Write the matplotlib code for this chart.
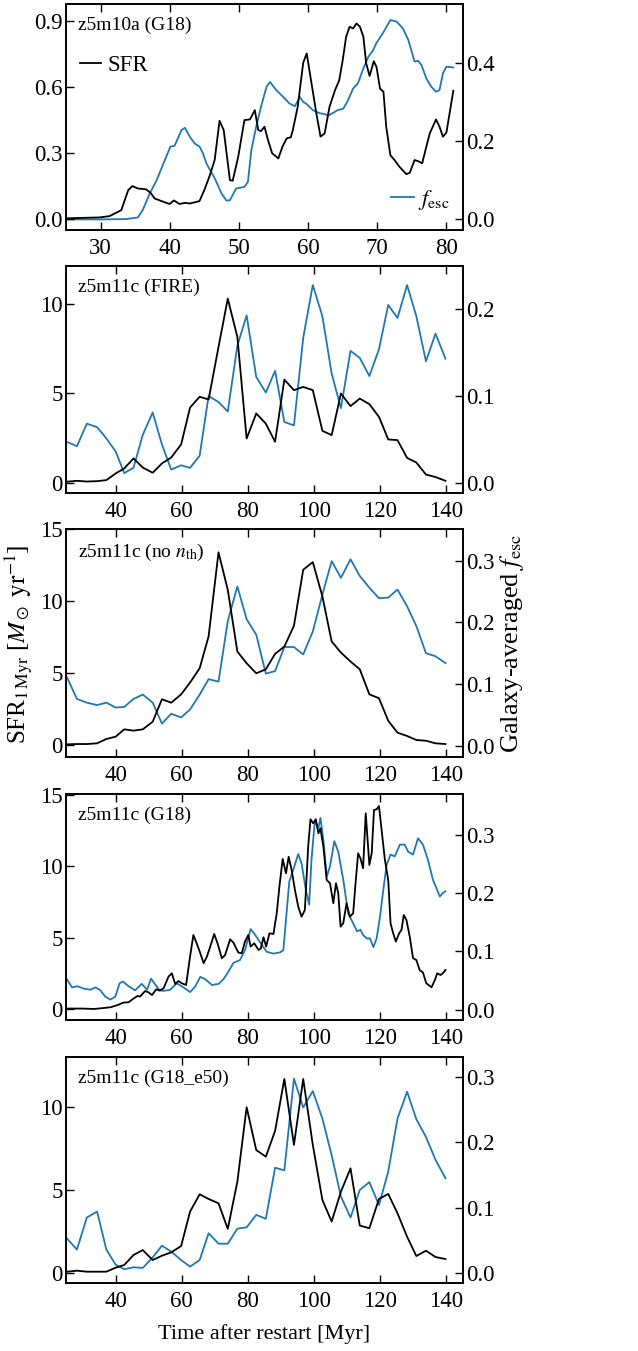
import matplotlib
matplotlib.use("Agg")
import matplotlib.pyplot as plt
from matplotlib.lines import Line2D

plt.rcParams['font.family'] = ['Liberation Serif', 'DejaVu Serif']
plt.rcParams['mathtext.fontset'] = 'stix'

BLACK = 'black'
BLUE = '#1f77b4'

# ---------------- Panel 1: z5m10a (G18) ----------------
t1_sfr = [25.0, 29.9, 31.3, 33.0, 34.0, 34.6, 35.4, 36.6, 37.3, 37.8, 39.5, 40.0, 40.6, 41.4,
          42.2, 42.9, 44.3, 45.0, 45.8, 46.5, 47.2, 47.8, 48.7, 49.1, 49.9, 50.8, 51.6, 52.3,
          52.8, 53.2, 53.7, 54.2, 54.8, 55.7, 56.3, 56.9, 57.5, 57.8, 58.5, 59.3, 59.8, 60.5,
          61.2, 61.8, 62.4, 63.1, 63.9, 64.5, 65.0, 65.5, 66.0, 66.5, 67.0, 67.5, 68.0, 68.4,
          68.9, 69.5, 69.9, 70.4, 70.9, 71.3, 71.9, 72.5, 73.2, 74.2, 74.7, 75.4, 75.9, 76.5,
          77.1, 77.6, 78.5, 79.0, 79.5, 80.0, 81.0]
sfr1 = [0.005, 0.009, 0.015, 0.042, 0.133, 0.151, 0.14, 0.136, 0.118, 0.095, 0.075, 0.07, 0.086,
        0.07, 0.075, 0.072, 0.083, 0.133, 0.2, 0.27, 0.447, 0.405, 0.178, 0.175, 0.284, 0.45,
        0.453, 0.495, 0.405, 0.40, 0.42, 0.36, 0.30, 0.276, 0.33, 0.367, 0.372, 0.405, 0.51,
        0.71, 0.752, 0.616, 0.48, 0.375, 0.39, 0.51, 0.586, 0.63, 0.72, 0.827, 0.873, 0.865,
        0.888, 0.873, 0.827, 0.707, 0.65, 0.717, 0.69, 0.593, 0.578, 0.42, 0.291, 0.269, 0.239,
        0.205, 0.211, 0.269, 0.264, 0.254, 0.33, 0.39, 0.453, 0.42, 0.375, 0.393, 0.583]
t1_fesc = [25.0, 29.9, 33.7, 35.4, 36.1, 37.1, 38.1, 39.0, 40.1, 40.7, 41.7, 42.2, 42.9, 43.6,
           44.3, 44.8, 45.3, 46.5, 47.5, 48.2, 48.7, 49.6, 50.8, 51.3, 51.8, 52.5, 53.2, 54.0,
           54.5, 55.4, 56.4, 57.3, 58.1, 58.8, 59.3, 59.7, 60.7, 61.7, 62.4, 62.9, 63.6, 64.3,
           65.1, 65.8, 66.5, 67.2, 67.9, 68.7, 69.4, 69.9, 70.8, 71.9, 72.8, 73.7, 74.5, 75.4,
           75.9, 76.4, 77.1, 77.8, 78.5, 79.0, 79.5, 80.0, 81.0]
fesc1 = [0.0, 0.0, 0.001, 0.005, 0.024, 0.066, 0.1, 0.139, 0.186, 0.188, 0.228, 0.234, 0.211,
         0.194, 0.186, 0.169, 0.143, 0.105, 0.066, 0.048, 0.049, 0.079, 0.083, 0.096, 0.177,
         0.237, 0.288, 0.339, 0.351, 0.33, 0.313, 0.296, 0.289, 0.313, 0.30, 0.296, 0.279,
         0.271, 0.269, 0.265, 0.272, 0.279, 0.283, 0.305, 0.334, 0.347, 0.381, 0.415, 0.432,
         0.451, 0.475, 0.509, 0.505, 0.488, 0.458, 0.403, 0.405, 0.394, 0.36, 0.339, 0.326,
         0.33, 0.373, 0.39, 0.388]

# ---------------- Coarse time grid (panels 2, 3, 5) ----------------
t_coarse = [25.3, 28.3, 31.3, 34.4, 37.2, 40.0, 42.6, 45.4, 48.2, 51.2, 54.0, 56.8, 59.8, 62.5,
            65.4, 68.1, 71.1, 73.9, 76.8, 79.6, 82.5, 85.4, 88.2, 91.0, 93.9, 96.7, 99.6, 102.5,
            105.3, 108.1, 111.0, 113.8, 116.7, 119.6, 122.4, 125.2, 128.1, 130.9, 133.8, 136.7,
            139.7]

# Panel 2: z5m11c (FIRE)
sfr2 = [0.06, 0.11, 0.07, 0.09, 0.15, 0.52, 0.8, 1.36, 0.85, 0.56, 1.08, 1.41, 2.14, 4.2, 4.8,
        4.65, 7.58, 10.28, 8.14, 2.47, 3.87, 3.3, 2.29, 5.76, 5.17, 5.35, 5.17, 2.9, 2.66, 4.98,
        4.28, 4.7, 4.39, 3.68, 2.42, 2.38, 1.39, 1.13, 0.46, 0.32, 0.11]
fesc2 = [0.047, 0.042, 0.068, 0.064, 0.051, 0.036, 0.011, 0.017, 0.055, 0.081, 0.044, 0.015,
         0.020, 0.017, 0.031, 0.1, 0.093, 0.082, 0.158, 0.193, 0.122, 0.104, 0.129, 0.07, 0.066,
         0.167, 0.228, 0.192, 0.126, 0.086, 0.152, 0.144, 0.123, 0.154, 0.205, 0.19, 0.228,
         0.192, 0.14, 0.172, 0.143]

# Panel 3: z5m11c (no n_th)
sfr3 = [0.05, 0.07, 0.07, 0.12, 0.42, 0.58, 1.09, 1.0, 1.09, 1.62, 3.18, 2.94, 3.52, 4.34, 5.33,
        7.54, 13.38, 10.78, 6.49, 5.68, 4.98, 5.26, 6.33, 6.84, 8.28, 12.17, 12.7, 10.32, 7.19,
        6.42, 5.8, 5.26, 3.52, 3.25, 1.69, 0.86, 0.63, 0.35, 0.3, 0.12, 0.07]
fesc3 = [0.111, 0.076, 0.07, 0.066, 0.07, 0.062, 0.063, 0.076, 0.083, 0.07, 0.036, 0.052, 0.046,
         0.059, 0.083, 0.108, 0.104, 0.202, 0.258, 0.205, 0.18, 0.117, 0.121, 0.16, 0.16, 0.148,
         0.185, 0.245, 0.299, 0.272, 0.302, 0.275, 0.256, 0.239, 0.24, 0.253, 0.226, 0.194,
         0.15, 0.145, 0.134]

# Panel 5: z5m11c (G18_e50)
sfr5 = [0.1, 0.16, 0.1, 0.1, 0.1, 0.34, 0.5, 1.1, 1.4, 0.8, 1.06, 1.26, 1.64, 3.71, 4.75, 4.47,
        4.21, 2.67, 5.51, 9.98, 7.41, 7.01, 8.56, 11.68, 7.72, 11.68, 7.72, 4.41, 3.11, 4.91,
        6.31, 2.87, 2.71, 4.47, 4.77, 3.61, 2.2, 1.04, 1.36, 0.98, 0.86]
fesc5 = [0.053, 0.036, 0.085, 0.094, 0.036, 0.013, 0.006, 0.009, 0.008, 0.024, 0.042, 0.033,
         0.02, 0.01, 0.02, 0.061, 0.045, 0.045, 0.068, 0.07, 0.089, 0.083, 0.161, 0.157, 0.297,
         0.253, 0.278, 0.236, 0.18, 0.117, 0.085, 0.127, 0.139, 0.104, 0.155, 0.236, 0.277,
         0.235, 0.208, 0.173, 0.145]

# ---------------- Panel 4: z5m11c (G18), finely sampled ----------------
t4_sfr = [25.3, 30.3, 33.4, 36.4, 38.4, 40.4, 42.4, 43.9, 45.4, 46.6, 47.4, 48.9, 49.9, 51.0,
          52.3, 53.3, 54.5, 56.0, 57.0, 58.0, 59.0, 60.0, 61.3, 62.5, 63.5, 64.5, 65.6, 66.6,
          67.6, 68.6, 69.8, 70.8, 72.1, 73.1, 74.6, 75.6, 77.1, 78.1, 79.1, 80.1, 80.8, 81.9,
          83.2, 83.9, 84.7, 85.5, 86.5, 87.7, 88.7, 89.5, 90.5, 91.5, 92.3, 93.2, 94.2, 95.2,
          96.2, 97.2, 98.2, 98.9, 99.7, 100.5, 101.3, 101.9, 102.8, 103.8, 104.8, 105.8, 106.6,
          107.3, 108.0, 108.8, 109.8, 110.8, 111.8, 112.6, 113.3, 114.0, 114.8, 115.6, 116.7,
          117.4, 118.1, 118.9, 119.6, 120.4, 121.4, 122.4, 123.1, 123.9, 124.7, 125.7, 126.4,
          127.1, 127.9, 128.9, 129.9, 130.9, 131.9, 132.9, 133.9, 135.5, 136.5, 137.2, 138.2,
          138.9, 139.7]
sfr4 = [0.05, 0.05, 0.02, 0.09, 0.14, 0.28, 0.47, 0.49, 0.75, 0.93, 0.89, 1.28, 1.19, 1.0, 1.4,
        1.31, 1.47, 2.29, 2.52, 1.77, 1.98, 1.82, 1.7, 3.69, 5.2, 4.62, 3.92, 3.22, 3.69, 4.39,
        5.27, 4.62, 3.57, 3.8, 4.9, 4.67, 3.97, 3.92, 4.74, 5.2, 4.39, 4.62, 4.15, 4.27, 5.04,
        4.39, 5.32, 5.27, 6.72, 8.58, 10.52, 9.52, 10.68, 9.75, 8.35, 7.18, 6.48, 6.95, 11.38,
        13.3, 13.02, 13.3, 12.32, 12.67, 11.38, 9.05, 8.82, 7.42, 8.82, 8.12, 5.78, 6.02, 7.42,
        6.48, 6.72, 9.05, 10.92, 10.57, 9.87, 13.72, 10.1, 10.92, 13.95, 14.0, 14.23, 12.55,
        10.45, 9.05, 6.02, 5.32, 4.74, 5.32, 5.55, 6.6, 6.25, 5.09, 3.57, 3.45, 2.75, 2.57, 1.82,
        1.54, 2.05, 2.52, 2.4, 2.52, 2.75]
t4_fesc = [25.3, 26.8, 28.5, 30.3, 32.4, 33.9, 35.4, 36.9, 38.4, 39.9, 41.2, 42.2, 43.9, 45.9,
           47.9, 49.5, 50.7, 51.7, 53.3, 54.5, 56.5, 58.5, 60.5, 62.5, 64.0, 65.6, 67.1, 69.1,
           71.1, 72.6, 74.1, 75.6, 77.6, 79.1, 80.8, 82.2, 83.7, 85.7, 87.7, 89.7, 90.7, 91.5,
           92.5, 93.7, 95.2, 96.2, 97.5, 98.5, 99.2, 100.2, 101.3, 101.9, 102.8, 103.8, 104.8,
           106.1, 107.3, 108.8, 110.3, 111.8, 113.0, 114.0, 114.8, 115.9, 116.9, 117.9, 118.9,
           119.9, 120.9, 121.9, 123.1, 124.4, 125.9, 127.4, 128.4, 129.9, 131.4, 132.9, 134.4,
           135.9, 137.2, 138.0, 138.9, 139.7]
fesc4 = [0.052, 0.038, 0.040, 0.036, 0.034, 0.038, 0.033, 0.022, 0.017, 0.022, 0.045, 0.048,
         0.04, 0.033, 0.044, 0.034, 0.053, 0.045, 0.033, 0.032, 0.034, 0.045, 0.038, 0.03, 0.039,
         0.056, 0.052, 0.042, 0.044, 0.052, 0.065, 0.08, 0.085, 0.102, 0.138, 0.128, 0.115,
         0.099, 0.096, 0.098, 0.102, 0.154, 0.22, 0.24, 0.267, 0.251, 0.205, 0.18, 0.257, 0.323,
         0.312, 0.329, 0.291, 0.228, 0.246, 0.289, 0.271, 0.223, 0.165, 0.148, 0.134, 0.137,
         0.128, 0.122, 0.122, 0.107, 0.122, 0.159, 0.205, 0.248, 0.266, 0.263, 0.283, 0.283,
         0.271, 0.266, 0.294, 0.283, 0.257, 0.223, 0.205, 0.194, 0.2, 0.203]

labels = ['z5m10a (G18)', 'z5m11c (FIRE)', r'z5m11c (no $n_{\rm th}$)', 'z5m11c (G18)',
          'z5m11c (G18_e50)']

panels = [
    dict(ts=t1_sfr, s=sfr1, tf=t1_fesc, f=fesc1, xlim=(25, 82.4), ylim=(-0.048, 0.976),
         y2lim=(-0.027, 0.55), xt=[30, 40, 50, 60, 70, 80], yt=[0.0, 0.3, 0.6, 0.9],
         y2t=[0.0, 0.2, 0.4], box=(4, 230)),
    dict(ts=t_coarse, s=sfr2, tf=t_coarse, f=fesc2, xlim=(25, 145), ylim=(-0.57, 12.1),
         y2lim=(-0.012, 0.25), xt=list(range(40, 141, 20)), yt=[0, 5, 10],
         y2t=[0.0, 0.1, 0.2], box=(266, 493)),
    dict(ts=t_coarse, s=sfr3, tf=t_coarse, f=fesc3, xlim=(25, 145), ylim=(-0.83, 15),
         y2lim=(-0.018, 0.351), xt=list(range(40, 141, 20)), yt=[0, 5, 10, 15],
         y2t=[0.0, 0.1, 0.2, 0.3], box=(529, 757)),
    dict(ts=t4_sfr, s=sfr4, tf=t4_fesc, f=fesc4, xlim=(25, 145), ylim=(-0.75, 15.07),
         y2lim=(-0.018, 0.37), xt=list(range(40, 141, 20)), yt=[0, 5, 10, 15],
         y2t=[0.0, 0.1, 0.2, 0.3], box=(794, 1020)),
    dict(ts=t_coarse, s=sfr5, tf=t_coarse, f=fesc5, xlim=(25, 145), ylim=(-0.58, 13.0),
         y2lim=(-0.015, 0.33), xt=list(range(40, 141, 20)), yt=[0, 5, 10],
         y2t=[0.0, 0.1, 0.2, 0.3], box=(1057, 1283)),
]

W, H = 638, 1351
fig = plt.figure(figsize=(W / 100, H / 100), dpi=100)
L, R = 66, 463
FS = 16.5
lw = 1.3

axes = []
for i, p in enumerate(panels):
    top, bot = p['box']
    ax = fig.add_axes([L / W, 1 - bot / H, (R - L) / W, (bot - top) / H])
    ax2 = ax.twinx()
    ax.plot(p['ts'], p['s'], color=BLACK, lw=lw, zorder=3)
    ax2.plot(p['tf'], p['f'], color=BLUE, lw=lw)
    ax.set_zorder(ax2.get_zorder() + 1)
    ax.patch.set_visible(False)
    ax.set_xlim(*p['xlim'])
    ax.set_ylim(*p['ylim'])
    ax2.set_ylim(*p['y2lim'])
    ax.set_xticks(p['xt'])
    ax.set_yticks(p['yt'])
    ax2.set_yticks(p['y2t'])
    ax.tick_params(axis='both', direction='in', top=True, right=False, length=6, width=1.0,
                   labelsize=FS)
    ax.tick_params(axis='y', pad=2.5)
    ax.tick_params(axis='x', pad=6)
    ax2.tick_params(axis='y', direction='in', length=6, width=1.0, labelsize=FS, pad=2.5)
    for a in (ax, ax2):
        for sp in a.spines.values():
            sp.set_linewidth(1.2)
    ax.text(0.03, 0.945, labels[i], transform=ax.transAxes, ha='left', va='top', fontsize=14)
    axes.append((ax, ax2))

# Legends in panel 1
ax, ax2 = axes[0]
h1 = [Line2D([], [], color=BLACK, lw=lw)]
leg1 = ax.legend(h1, ['SFR'], loc='center left', bbox_to_anchor=(0.035, 0.73), frameon=False,
                 fontsize=FS, handlelength=0.9, handletextpad=0.3, borderpad=0,
                 borderaxespad=0)
h2 = [Line2D([], [], color=BLUE, lw=lw)]
leg2 = ax.legend(h2, [r'$f_{\rm esc}$'], loc='center right', bbox_to_anchor=(0.965, 0.133),
                 frameon=False, fontsize=FS, handlelength=1.0, handletextpad=0.15, borderpad=0,
                 borderaxespad=0)
ax.add_artist(leg1)

# Axis labels
fig.text(19 / W, 1 - 644 / H, r'SFR$_{\rm 1\,Myr}$ [$M_\odot\ {\rm yr}^{-1}$]', rotation=90,
         ha='center', va='center', fontsize=18)
fig.text(512 / W, 1 - 643 / H, r'Galaxy-averaged $f_{\rm esc}$', rotation=90,
         ha='center', va='center', fontsize=19)
fig.text((L + R) / 2 / W, 1 - 1334 / H, 'Time after restart [Myr]', ha='center', va='center',
         fontsize=16)

fig.savefig('out.png', dpi=100)
